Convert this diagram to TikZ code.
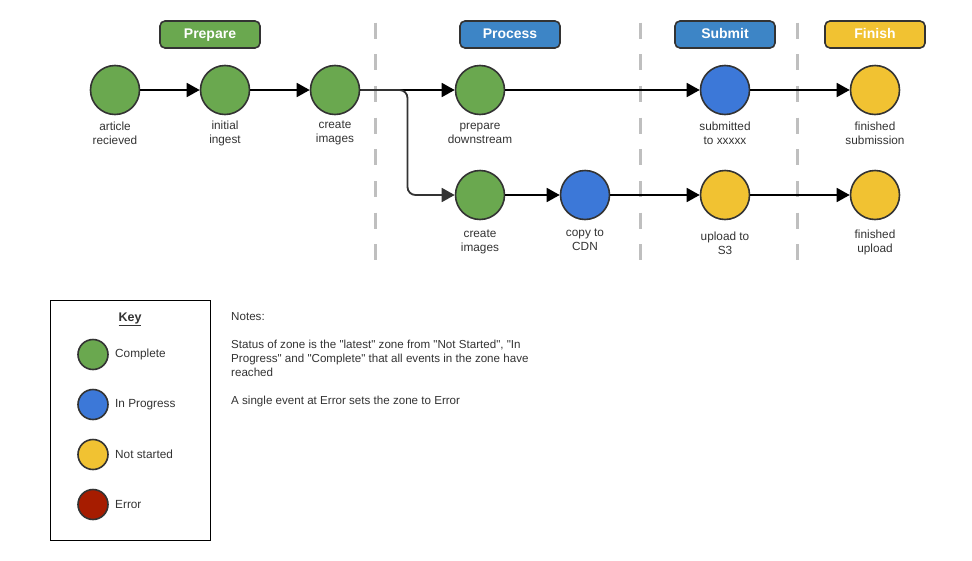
\documentclass[tikz,border=0pt]{standalone}
\usepackage{fontspec}
\setmainfont{Liberation Sans}[Ligatures=TeXOff]
\usetikzlibrary{arrows.meta}
\definecolor{cgreen}{HTML}{6AA84F}
\definecolor{cblue}{HTML}{3C78D8}
\definecolor{hblue}{HTML}{3D85C6}
\definecolor{cyellow}{HTML}{F1C232}
\definecolor{cred}{HTML}{A61C00}
\definecolor{cdark}{HTML}{333333}
\begin{document}
\begin{tikzpicture}[x=1pt,y=-1pt,
	evt/.style={circle, draw=cdark, line width=1.6pt, minimum size=49pt, inner sep=0pt},
	keyevt/.style={circle, draw=cdark, line width=1.6pt, minimum size=30pt, inner sep=0pt},
	zone/.style={rounded corners=5pt, draw=cdark, line width=1.6pt, minimum width=100pt, minimum height=27pt, text height=10pt, text depth=3pt, text=white, font=\fontsize{14}{16}\selectfont\bfseries},
	lbl/.style={align=center, text=cdark, font=\fontsize{11.8}{14}\selectfont},
	arr/.style={-{Triangle[length=13pt,width=14pt]}, line width=1.8pt},
	divider/.style={draw=black!25, line width=2.6pt, dash pattern=on 16pt off 15.7pt}]
	\useasboundingbox (0,0) rectangle (972,560);
	% zone headers
	\node (Z1) at (210, 34.5)	[zone, fill=cgreen]	{Prepare};
	\node (Z2) at (510, 34.5)	[zone, fill=hblue]	{Process};
	\node (Z3) at (725, 34.5)	[zone, fill=hblue]	{Submit};
	\node (Z4) at (875, 34.5)	[zone, fill=cyellow]	{Finish};
	% dividers
	\draw[divider] (375.5,22.5) -- (375.5,262);
	\draw[divider] (640.5,22.5) -- (640.5,262);
	\draw[divider] (797.5,22.5) -- (797.5,262);
	% events, first row
	\node (A1) at (115, 90)	[evt, fill=cgreen]	{};
	\node (A2) at (225, 90)	[evt, fill=cgreen]	{};
	\node (A3) at (335, 90)	[evt, fill=cgreen]	{};
	\node (A4) at (480, 90)	[evt, fill=cgreen]	{};
	\node (A5) at (725, 90)	[evt, fill=cblue]	{};
	\node (A6) at (875, 90)	[evt, fill=cyellow]	{};
	% events, second row
	\node (B1) at (480,195)	[evt, fill=cgreen]	{};
	\node (B2) at (585,195)	[evt, fill=cblue]	{};
	\node (B3) at (725,195)	[evt, fill=cyellow]	{};
	\node (B4) at (875,195)	[evt, fill=cyellow]	{};
	% labels
	\node (LA1) at (115,133)	[lbl]	{article\\recieved};
	\node (LA2) at (225,133)	[lbl]	{initial\\ingest};
	\node (LA3) at (335,133)	[lbl]	{create\\images};
	\node (LA4) at (480,133)	[lbl]	{prepare\\downstream};
	\node (LA5) at (725,133)	[lbl]	{submitted\\to xxxxx};
	\node (LA6) at (875,133)	[lbl]	{finished\\submission};
	\node (LB1) at (480,242)	[lbl]	{create\\images};
	\node (LB2) at (585,240)	[lbl]	{copy to\\CDN};
	\node (LB3) at (725,243)	[lbl]	{upload to\\S3};
	\node (LB4) at (875,242)	[lbl]	{finished\\upload};
	% connectors
	\coordinate (bend) at (407.5,90);
	\draw[arr] (A1) -- (A2);
	\draw[arr] (A2) -- (A3);
	\draw[arr] (A3) -- (A4);
	\draw[arr, draw=cdark, rounded corners=8pt] (A3.east) -- (bend) |- (B1);
	\draw[arr] (A4) -- (A5);
	\draw[arr] (A5) -- (A6);
	\draw[arr] (B1) -- (B2);
	\draw[arr] (B2) -- (B3);
	\draw[arr] (B3) -- (B4);
	% key
	\node (key) at (130,420)	[draw=black, line width=0.9pt, minimum width=160pt, minimum height=240pt]	{};
	\node (keyT) at (130,319)	[font=\fontsize{12.5}{14}\selectfont\bfseries, text=cdark]	{\underline{Key}};
	\node (K1) at (93,354.5)	[keyevt, fill=cgreen]	{};
	\node (K2) at (93,404.5)	[keyevt, fill=cblue]	{};
	\node (K3) at (93,454.5)	[keyevt, fill=cyellow]	{};
	\node (K4) at (93,504.5)	[keyevt, fill=cred]	{};
	\node (KL1) at (115,354.5)	[lbl, anchor=west, inner sep=0pt]	{Complete};
	\node (KL2) at (115,404.5)	[lbl, anchor=west, inner sep=0pt]	{In Progress};
	\node (KL3) at (115,454.5)	[lbl, anchor=west, inner sep=0pt]	{Not started};
	\node (KL4) at (115,504.5)	[lbl, anchor=west, inner sep=0pt]	{Error};
	% notes
	\node (notes) at (231,312.5)	[lbl, anchor=north west, align=left, inner sep=0pt, font=\fontsize{11.6}{14}\selectfont]	{Notes:\\[14pt]Status of zone is the "latest" zone from "Not Started", "In\\Progress" and "Complete" that all events in the zone have\\reached\\[14pt]A single event at Error sets the zone to Error};
\end{tikzpicture}
\end{document}
